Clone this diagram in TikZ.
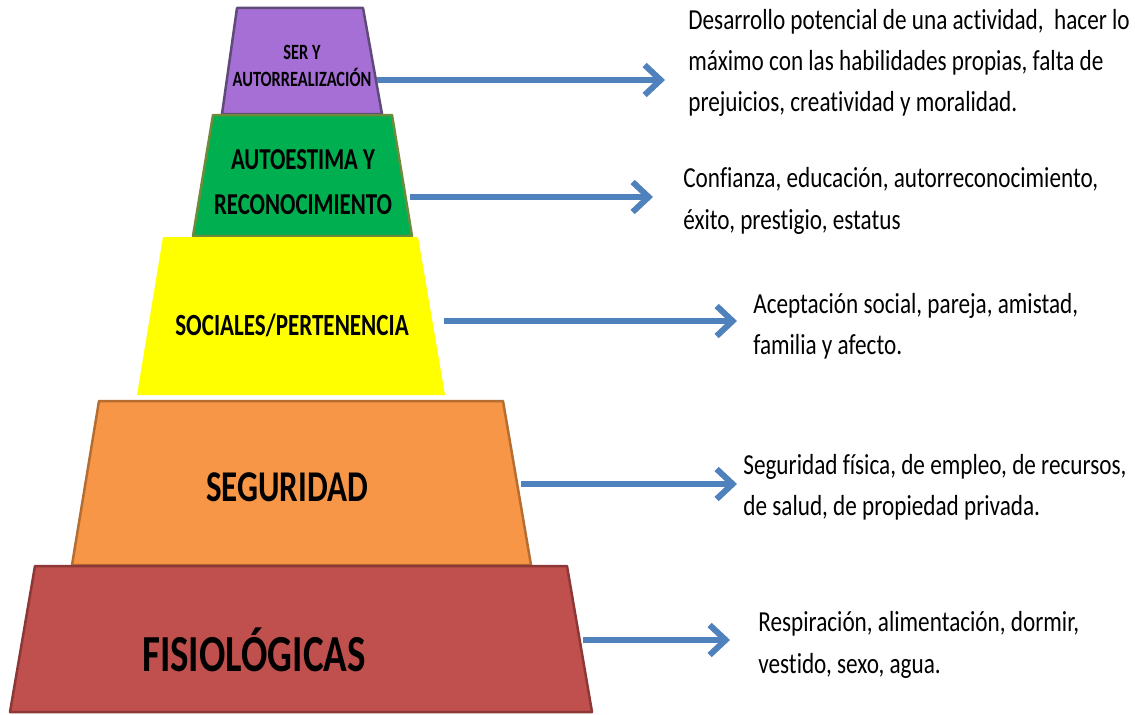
\documentclass[tikz,border=0pt]{standalone}
\usepackage{fontspec}
\setmainfont{Carlito}
\newfontfamily\cf[FakeStretch=0.75,Ligatures=NoCommon]{Carlito}
\newfontfamily\df[FakeStretch=0.8,Ligatures=NoCommon]{Carlito}
\usetikzlibrary{arrows.meta}
\definecolor{serfill}{HTML}{A66FD6}
\definecolor{serline}{HTML}{5F4A7A}
\definecolor{autofill}{HTML}{00B050}
\definecolor{autoline}{HTML}{6E8B3D}
\definecolor{socfill}{HTML}{FFFF00}
\definecolor{segfill}{HTML}{F79646}
\definecolor{segline}{HTML}{B66D31}
\definecolor{fisfill}{HTML}{C0504D}
\definecolor{fisline}{HTML}{8C3836}
\definecolor{flecha}{HTML}{4F81BD}
\newcommand\lblfont[2]{\fontsize{#1}{#2}\cf\bfseries}
\tikzset{
  level/.style={line width=.5mm},
  lbl/.style={align=center,inner sep=0pt},
  desc/.style={font=\fontsize{16.5}{23.5}\df,anchor=west,align=left,inner sep=0pt},
  conn/.style={draw=flecha,line width=1.2mm,-{Straight Barb[length=3.2mm,width=6mm]}}
}
\begin{document}
\begin{tikzpicture}[line join=round,x=.2mm,y=-.2mm]
\useasboundingbox[fill=white] (0,0) rectangle (1135,714);
% piramide
\filldraw[level,fill=serfill,draw=serline] (237,8)--(363,8)--(382,114)--(222,114)--cycle;
\filldraw[level,fill=autofill,draw=autoline] (213,115)--(392,115)--(412,236)--(193,236)--cycle;
\fill[socfill] (163,237)--(418,237)--(445,395)--(137,395)--cycle;
\filldraw[level,fill=segfill,draw=segline] (99,401)--(503,401)--(531,565)--(72,565)--cycle;
\filldraw[level,fill=fisfill,draw=fisline] (35,566)--(567,566)--(592,712)--(10,712)--cycle;

\path (302,66)node[lbl,font=\lblfont{12.4}{15.6}] (ser){SER Y\\AUTORREALIZACIÓN}
(303,182)node[lbl,font=\lblfont{17.3}{25.6}] (auto){AUTOESTIMA Y\\RECONOCIMIENTO}
(292,325)node[lbl,font=\lblfont{17.5}{20}] (soc){SOCIALES/PERTENENCIA}
(287,487)node[lbl,font=\lblfont{25}{30}] (seg){SEGURIDAD}
(254,650)node[lbl,font=\lblfont{29.6}{34}] (fis){FISIOLÓGICAS};

% descripciones
\path (688,63)node[desc] (dser){Desarrollo potencial de una actividad,\ \ hacer lo\\máximo con las habilidades propias, falta de\\prejuicios, creatividad y moralidad.}
(683,201)node[desc] (dauto){Confianza, educación, autorreconocimiento,\\éxito, prestigio, estatus}
(753,326)node[desc] (dsoc){Aceptación social, pareja, amistad,\\familia y afecto.}
(743,487)node[desc] (dseg){Seguridad física, de empleo, de recursos,\\de salud, de propiedad privada.}
(758,645)node[desc] (dfis){Respiración, alimentación, dormir,\\vestido, sexo, agua.};

\coordinate (aser) at (377,80);
\coordinate (aauto) at (410,197);
\coordinate (asoc) at (444,321);
\coordinate (aseg) at (521,484);
\coordinate (afis) at (583,640);
\draw[conn,shorten >=4.6mm] (aser)--(aser-|dser.west);
\draw[conn,shorten >=6mm] (aauto)--(aauto-|dauto.west);
\draw[conn,shorten >=3.2mm] (asoc)--(asoc-|dsoc.west);
\draw[conn,shorten >=1.2mm] (aseg)--(aseg-|dseg.west);
\draw[conn,shorten >=5.6mm] (afis)--(afis-|dfis.west);
\end{tikzpicture}
\end{document}
